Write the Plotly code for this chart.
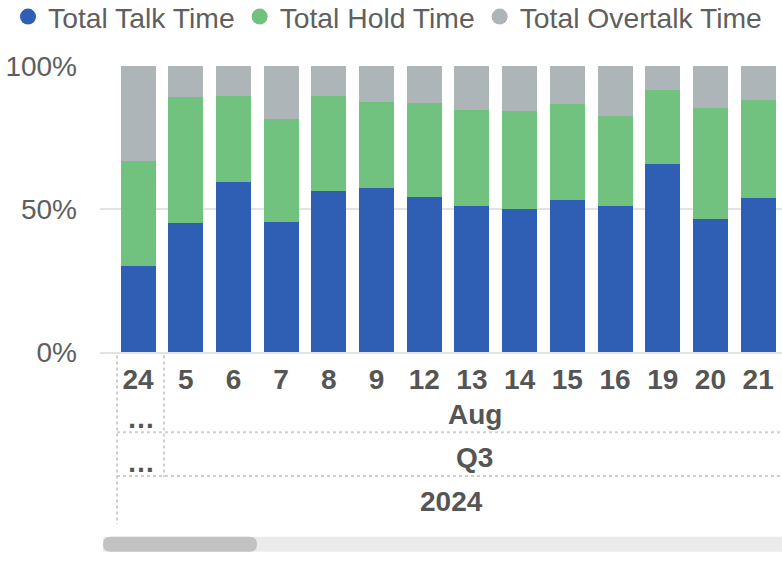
import plotly.graph_objects as go

days = ["24", "5", "6", "7", "8", "9", "12", "13", "14", "15", "16", "19", "20", "21"]
talk_pct = [30.1, 45.0, 59.4, 45.4, 56.3, 57.4, 54.3, 51.0, 50.1, 53.2, 51.2, 65.8, 46.4, 53.7]
hold_pct = [36.6, 44.1, 30.0, 35.9, 33.2, 30.0, 32.7, 33.7, 34.3, 33.4, 31.3, 25.7, 38.9, 34.3]
overtalk_pct = [33.3, 10.9, 10.6, 18.7, 10.5, 12.6, 13.0, 15.3, 15.6, 13.4, 17.5, 8.5, 14.7, 12.0]
series_names = ["Total Talk Time", "Total Hold Time", "Total Overtalk Time"]
colors = ["#2E5FB4", "#70C27E", "#AEB5B8"]
y_ticks = [0, 50, 100]
y_tick_text = ["0%", "50%", "100%"]
month_label = "Aug"
quarter_label = "Q3"
year_label = "2024"

W, H = 782, 568
# plot area in page pixels
PL, PR, PT, PB = 100, 782, 65.5, 352.5
L, R, T, B = PL, (W - PR), PT, (H - PB)
PW, PH = W - L - R, H - T - B

def px(x):
    return (x - PL) / PW

def py(y):
    return (PB - y) / PH

fig = go.Figure()
for name, vals, col in zip(series_names, [talk_pct, hold_pct, overtalk_pct], colors):
    fig.add_trace(go.Bar(x=days, y=vals, name=name, marker_color=col,
                         marker_line_width=0, showlegend=False))
for name, col in zip(series_names, colors):
    fig.add_trace(go.Scatter(x=[None], y=[None], mode="markers", name=name,
                             marker=dict(symbol="circle", size=16, color=col)))

font_family = "Liberation Sans, Arial, sans-serif"
fig.update_layout(
    width=W, height=H,
    margin=dict(l=L, r=R, t=T, b=B, pad=0, autoexpand=False),
    barmode="stack", bargap=0.266,
    plot_bgcolor="white", paper_bgcolor="white",
    font=dict(family=font_family, color="#5A5A5A"),
    legend=dict(orientation="h", x=px(8), xanchor="left", y=py(16), yanchor="middle",
                traceorder="normal",
                font=dict(size=28.3, color="#5F5F5F"), itemsizing="trace",
                itemwidth=30, tracegroupgap=0, bgcolor="rgba(0,0,0,0)"),
    xaxis=dict(type="category", range=[-0.797, 13.5], showgrid=False,
               showline=True, linecolor="#E3E3E3", linewidth=2, ticks="",
               tickfont=dict(size=28, color="#555555", family=font_family, weight="bold"),
               ticklabelstandoff=1, fixedrange=True),
    yaxis=dict(range=[0, 100], tickvals=y_ticks, ticktext=y_tick_text,
               showgrid=True, gridcolor="#E3E3E3", gridwidth=2, zeroline=False,
               showline=False, ticks="", tickfont=dict(size=28, color="#5E5E5E"),
               ticklabelstandoff=22, fixedrange=True),
)

ann_font = dict(size=28, color="#555555", family=font_family, weight="bold")
anns = [
    (141, 419, "…"), (141, 463, "…"),
    (475, 415, month_label), (475, 458, quarter_label), (451, 503, year_label),
]
for x, y, t in anns:
    fig.add_annotation(x=px(x), y=py(y), xref="paper", yref="paper", text=t,
                       showarrow=False, font=ann_font, xanchor="center", yanchor="middle")

dot = dict(color="#CFCFCF", width=2, dash="dot")
fig.add_shape(type="line", xref="paper", yref="paper", x0=px(117), x1=px(117), y0=py(356), y1=py(525), line=dot)
fig.add_shape(type="line", xref="paper", yref="paper", x0=px(164), x1=px(164), y0=py(356), y1=py(478), line=dot)
fig.add_shape(type="line", xref="paper", yref="paper", x0=px(117), x1=px(782), y0=py(433), y1=py(433), line=dot)
fig.add_shape(type="line", xref="paper", yref="paper", x0=px(117), x1=px(782), y0=py(477), y1=py(477), line=dot)

def rounded_bar(x0, x1, y0, y1):
    r = (y1 - y0) / 2
    return (f"M {px(x0 + r)},{py(y0)} L {px(x1 - r)},{py(y0)} "
            f"Q {px(x1)},{py(y0)} {px(x1)},{py(y0 + r)} "
            f"Q {px(x1)},{py(y1)} {px(x1 - r)},{py(y1)} "
            f"L {px(x0 + r)},{py(y1)} "
            f"Q {px(x0)},{py(y1)} {px(x0)},{py(y0 + r)} "
            f"Q {px(x0)},{py(y0)} {px(x0 + r)},{py(y0)} Z")

fig.add_shape(type="rect", xref="paper", yref="paper", x0=px(103), x1=px(782),
              y0=py(538), y1=py(553), fillcolor="#EBEBEB", line_width=0, layer="below")
fig.add_shape(type="path", xref="paper", yref="paper", path=rounded_bar(103, 257, 538, 553),
              fillcolor="#C2C2C2", line_width=0)

fig.write_html("out.html", config={"displayModeBar": False},
               post_script="document.body.style.margin='0';document.body.style.overflow='hidden';")
